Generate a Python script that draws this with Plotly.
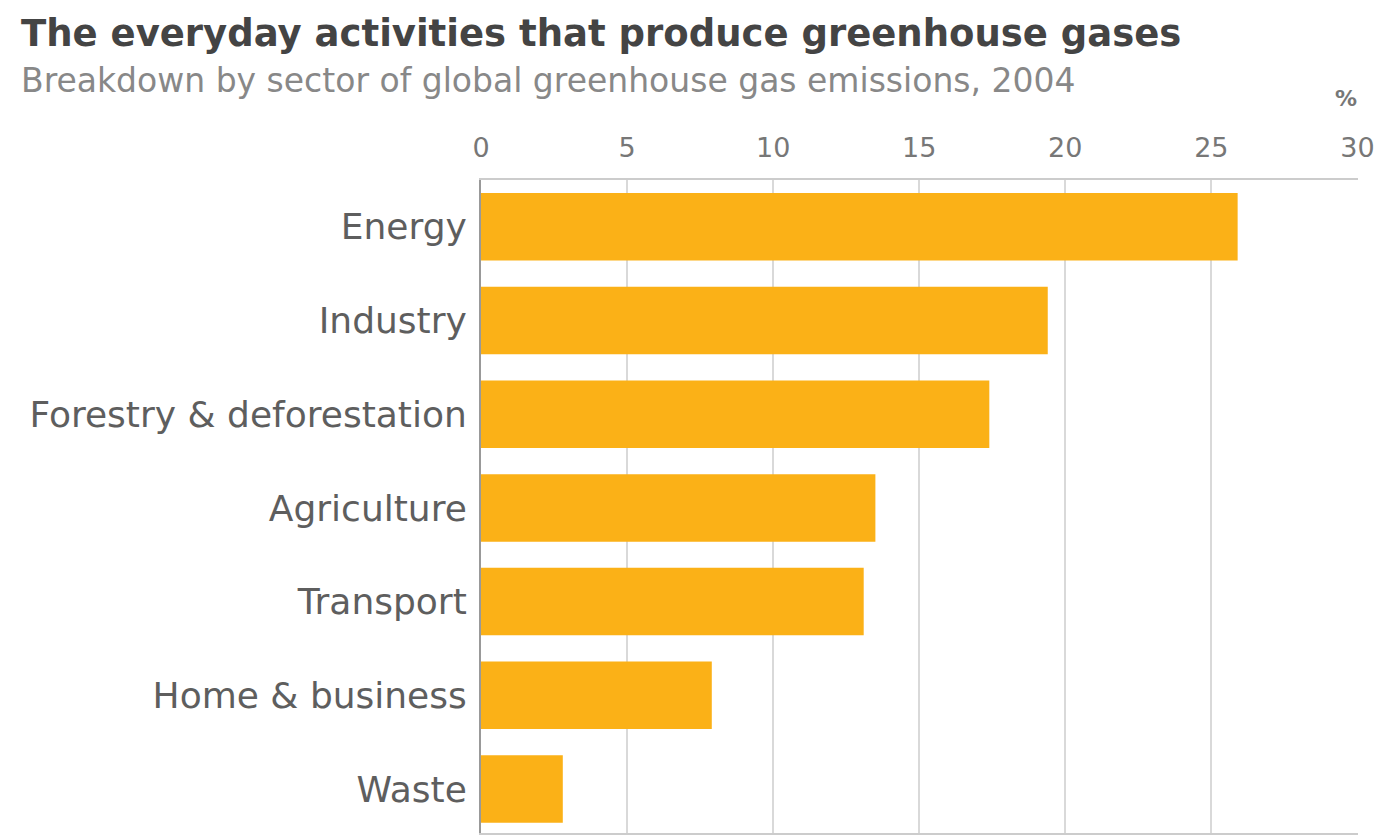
import plotly.graph_objects as go

categories = ["Energy", "Industry", "Forestry & deforestation", "Agriculture",
              "Transport", "Home & business", "Waste"]
values = [25.9, 19.4, 17.4, 13.5, 13.1, 7.9, 2.8]
x_ticks = [0, 5, 10, 15, 20, 25, 30]

title = "The everyday activities that produce greenhouse gases"
subtitle = "Breakdown by sector of global greenhouse gas emissions, 2004"

PL, PR, PT = 481, 1359, 180
PW = PR - PL
PH = 835 - PT

fig = go.Figure(go.Bar(
    x=values,
    y=list(range(len(categories))),
    orientation="h",
    marker=dict(color="#FBB117", line=dict(width=0)),
    width=0.72,
))

fig.update_layout(
    width=1375, height=835,
    margin=dict(l=PL, r=1375 - PR, t=PT, b=0),
    paper_bgcolor="white", plot_bgcolor="white",
    showlegend=False,
    font=dict(family="DejaVu Sans", color="#666666"),
)
fig.update_xaxes(
    range=[0, 30.02], side="top", tickvals=x_ticks,
    ticktext=[str(t) for t in x_ticks],
    tickfont=dict(size=27, color="#777777"),
    showgrid=True, gridcolor="#D9D9D9", gridwidth=2,
    zeroline=False, showline=True, linecolor="#CCCCCC", linewidth=2,
    mirror=True, ticks="", ticklabelstandoff=10, ticklabeloverflow="allow",
)
fig.update_yaxes(
    range=[6.47, -0.5], tickvals=list(range(len(categories))),
    ticktext=categories, tickfont=dict(size=36, color="#5E5E5E"),
    showgrid=False, zeroline=False, showline=True, linecolor="#999999",
    linewidth=2, ticks="", ticklabelstandoff=5,
)

def px_x(x):
    return (x - PL) / PW

def px_y(y):
    return 1 + (PT - y) / PH

fig.add_annotation(text="<b>" + title + "</b>", xref="paper", yref="paper",
                   x=px_x(18), y=px_y(33), xanchor="left", yanchor="middle",
                   showarrow=False, font=dict(size=37, color="#444444"))
fig.add_annotation(text=subtitle, xref="paper", yref="paper",
                   x=px_x(18), y=px_y(80), xanchor="left", yanchor="middle",
                   showarrow=False, font=dict(size=33, color="#888888"))
fig.add_annotation(text="<b>%</b>", xref="paper", yref="paper",
                   x=px_x(1347), y=px_y(98), xanchor="center", yanchor="middle",
                   showarrow=False, font=dict(size=22, color="#777777"))

fig.write_html("out.html")
